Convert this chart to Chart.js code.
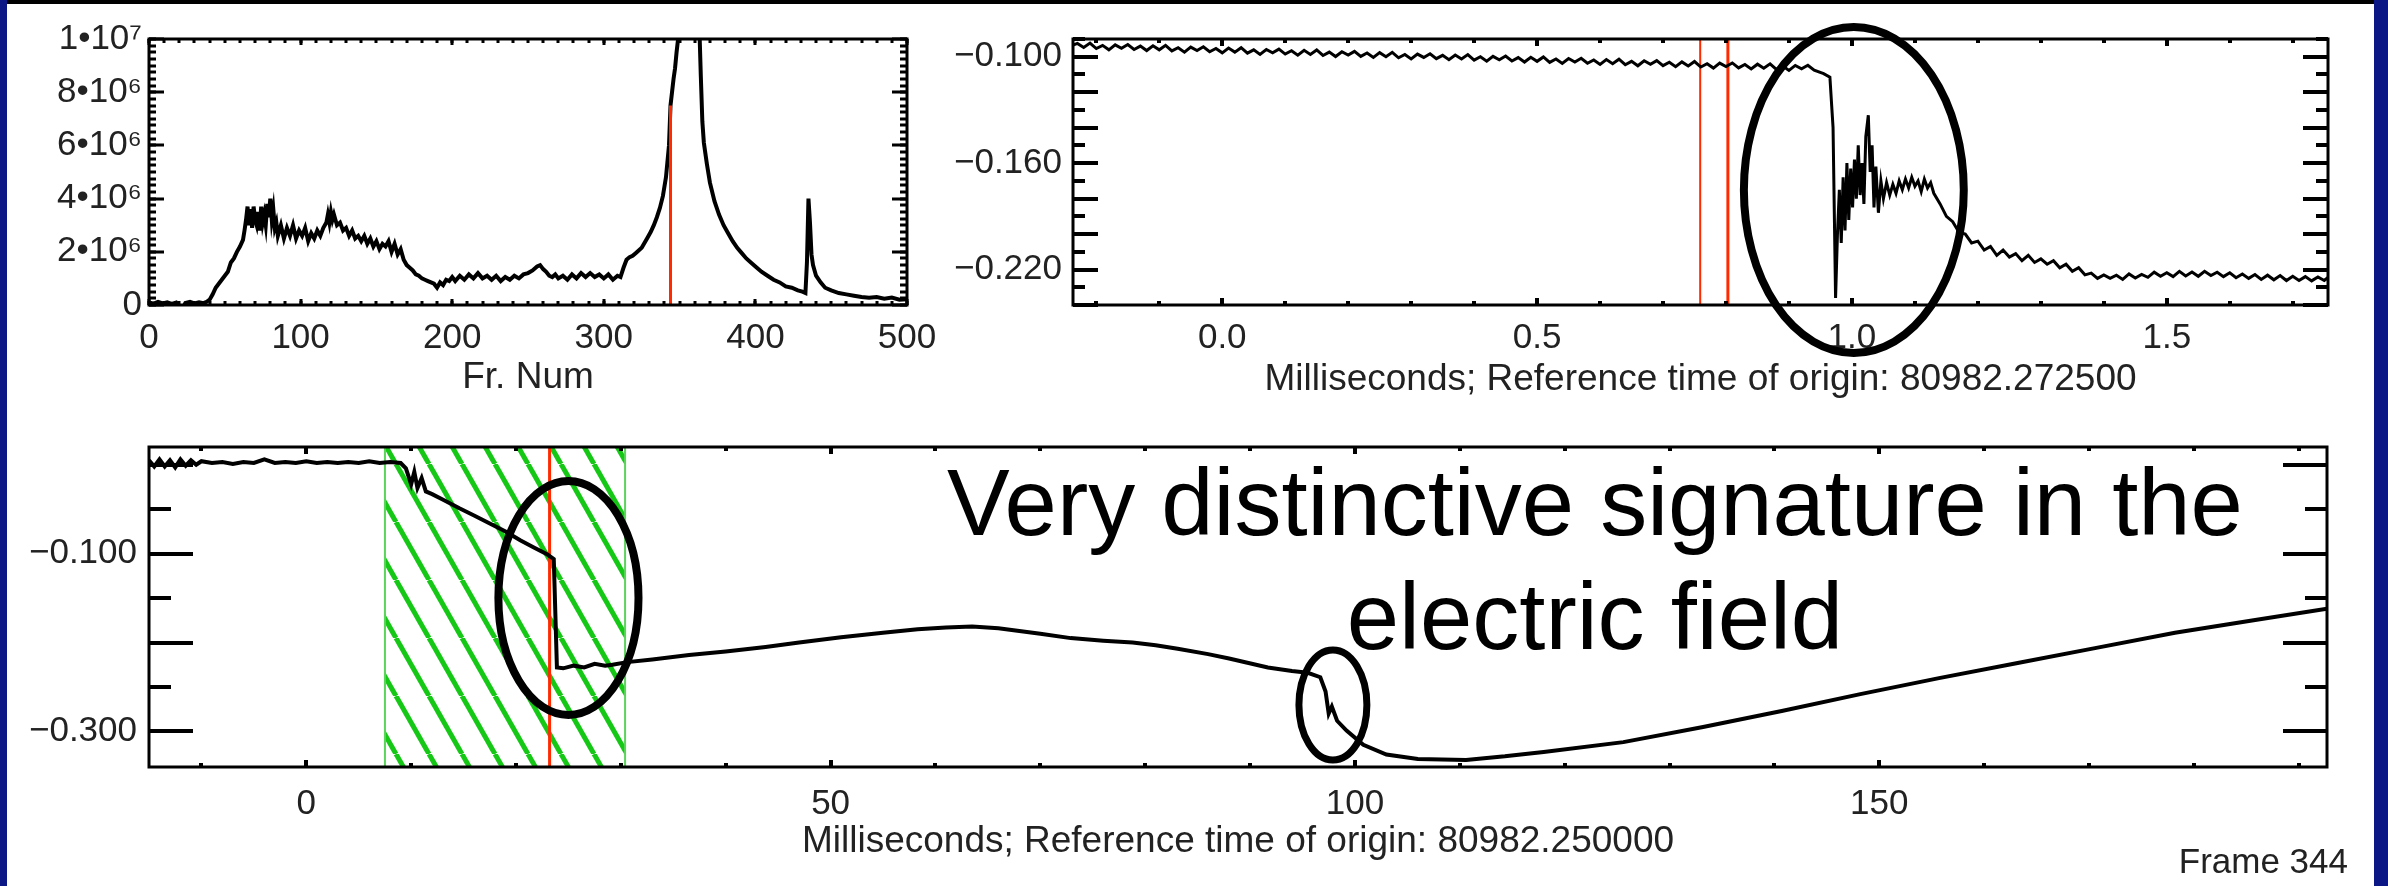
<!DOCTYPE html>
<html>
<head>
<meta charset="utf-8">
<script src="https://cdn.jsdelivr.net/npm/chart.js@4.4.1/dist/chart.umd.min.js"></script>
<style>
  html, body { margin:0; padding:0; }
  body { width:2388px; height:886px; background:#fff; position:relative; overflow:hidden; font-family:'Liberation Sans', Arial, Helvetica, sans-serif; }
  canvas { position:absolute; left:0; top:0; }
  .edge { position:absolute; background:#0b1784; }
  .note { position:absolute; color:#000; white-space:nowrap; }
</style>
</head>
<body>
<div class="edge" style="left:0;top:0;width:7px;height:886px"></div>
<div class="edge" style="left:2374px;top:0;width:14px;height:886px"></div>
<div style="position:absolute;left:7px;top:0;width:2367px;height:4px;background:#000"></div>
<canvas id="c1" width="2388" height="886"></canvas>
<canvas id="c2" width="2388" height="886"></canvas>
<canvas id="c3" width="2388" height="886"></canvas>
<div class="note" style="left:845px;top:446px;width:1500px;text-align:center;font-size:94px;line-height:114px;">Very distinctive signature in the<br>electric field</div>
<div class="note" style="right:40px;top:841px;font-size:35px;line-height:40px;color:#222;">Frame 344</div>
<script>
// ---------------- DATA ----------------
// Panel 1: counts (in units of 10^6) versus frame number
const p1Frame = [
  0,3,6,9,12,15,18,22,24,27,
  30,33,36,38,40,42,44,46,48,50,
  52,54,56,58,60,62,63,64,65,66,
  67,68,69,70,71,72,73,74,75,76,
  77,78,79,80,81,82,83,84,85,87,
  89,91,93,95,97,99,101,103,105,107,
  109,111,113,115,117,118,119,120,121,122,
  124,126,128,130,132,134,136,138,140,142,
  144,146,148,150,152,154,156,158,160,162,
  164,166,168,170,172,174,176,178,180,182,
  184,186,188,190,192,194,196,198,200,202,
  205,208,211,214,217,220,223,226,229,232,
  235,238,241,244,247,250,253,256,258,260,
  262,264,266,268,270,273,276,279,282,285,
  288,291,294,297,300,303,306,309,311,313,
  315,317,319,321,323,325,327,329,331,333,
  335,337,339,341,343,344,345,346,347,348,
  349,350,352,355,358,361,363,364,365,366,
  368,370,373,376,379,382,385,388,391,394,
  397,400,404,408,412,416,420,424,428,431,
  433,434,435,436,437,438,440,443,446,450,
  455,460,465,470,475,480,485,490,495,500
];
const p1CountsMillions = [
  0.10,0.05,0.12,0.06,0.10,0.04,0.09,-0.15,0.08,0.12,
  0.06,0.10,0.07,0.12,0.2,0.4,0.65,0.8,0.95,1.1,
  1.25,1.6,1.75,2.0,2.2,2.45,2.8,3.2,3.7,3.0,
  3.6,2.9,3.7,3.2,3.0,3.5,2.8,3.7,3.1,3.4,
  3.0,3.8,3.3,4.0,3.2,3.6,2.9,3.1,2.6,3.0,
  2.5,2.9,2.6,3.0,2.5,2.8,2.6,2.9,2.4,2.7,
  2.5,2.8,2.6,2.9,3.1,3.4,3.1,3.5,3.2,3.4,
  3.0,3.1,2.8,2.9,2.6,2.8,2.5,2.6,2.4,2.6,
  2.3,2.5,2.2,2.4,2.1,2.3,2.2,2.4,2.0,2.3,
  1.9,2.1,1.7,1.5,1.4,1.3,1.15,1.1,1.0,0.95,
  0.9,0.85,0.8,0.65,0.85,0.75,0.95,0.9,1.05,0.9,
  1.1,0.95,1.15,1.0,1.2,1.0,1.1,0.95,1.1,0.9,
  1.05,0.95,1.1,1.0,1.15,1.2,1.3,1.45,1.5,1.35,
  1.25,1.1,1.05,1.15,1.0,1.1,0.95,1.15,1.0,1.2,
  1.05,1.2,1.05,1.15,1.0,1.15,0.95,1.1,1.05,1.4,
  1.7,1.8,1.85,1.95,2.05,2.15,2.35,2.55,2.75,3.0,
  3.3,3.65,4.1,4.8,6.0,7.5,8.0,8.5,8.9,9.5,
  10.0,10.5,12,14,14,12,10.5,8.6,6.9,6.1,
  5.3,4.6,3.9,3.4,3.0,2.7,2.4,2.15,1.95,1.75,
  1.6,1.45,1.25,1.1,0.95,0.85,0.7,0.65,0.55,0.5,
  0.45,1.6,4.0,3.1,1.9,1.5,1.1,0.85,0.65,0.55,
  0.45,0.4,0.35,0.3,0.27,0.3,0.24,0.28,0.2,0.22
];
const p1MarkFrame = [344, 344];
const p1MarkCounts = [0, 7.5];
const p1XTicks = [0, 100, 200, 300, 400, 500];
const p1XLabels = ['0', '100', '200', '300', '400', '500'];
const p1YTicks = [0, 2, 4, 6, 8, 10];
const p1YLabels = ['0', '2\u202210\u2076', '4\u202210\u2076', '6\u202210\u2076', '8\u202210\u2076', '1\u202210\u2077'];

// Panel 2: field versus milliseconds (origin 80982.272500)
const p2Ms = [
  -0.237,
  -0.23,-0.22,-0.21,-0.2,-0.19,-0.18,-0.17,-0.16,-0.15,-0.14,
  -0.13,-0.12,-0.11,-0.1,-0.09,-0.08,-0.07,-0.06,-0.05,-0.04,
  -0.03,-0.02,-0.01,0,0.01,0.02,0.03,0.04,0.05,0.06,
  0.07,0.08,0.09,0.1,0.11,0.12,0.13,0.14,0.15,0.16,
  0.17,0.18,0.19,0.2,0.21,0.22,0.23,0.24,0.25,0.26,
  0.27,0.28,0.29,0.3,0.31,0.32,0.33,0.34,0.35,0.36,
  0.37,0.38,0.39,0.4,0.41,0.42,0.43,0.44,0.45,0.46,
  0.47,0.48,0.49,0.5,0.51,0.52,0.53,0.54,0.55,0.56,
  0.57,0.58,0.59,0.6,0.61,0.62,0.63,0.64,0.65,0.66,
  0.67,0.68,0.69,0.7,0.71,0.72,0.73,0.74,0.75,0.76,
  0.77,0.78,0.79,0.8,0.81,0.82,0.83,0.84,0.85,0.86,
  0.87,0.88,0.89,0.9,0.91,0.92,0.93,0.94,
  0.955,0.965,0.970,0.974,0.977,0.980,0.983,0.986,0.989,0.992,
  0.995,0.998,1.001,1.004,1.007,1.010,1.013,1.016,1.019,1.022,
  1.026,1.029,1.032,1.035,1.038,1.042,1.046,1.050,1.055,1.060,
  1.065,1.070,1.075,1.080,1.085,1.090,1.095,1.100,1.105,1.110,
  1.115,1.12,1.125,1.13,1.14,1.15,1.16,1.17,1.18,1.19,
  1.20,1.21,1.22,1.23,1.24,1.25,1.26,1.27,1.28,1.29,
  1.30,1.31,1.32,1.33,1.34,1.35,1.36,1.37,1.38,1.39,
  1.40,1.41,1.42,1.43,1.44,1.45,1.46,1.47,1.48,1.49,
  1.50,1.51,1.52,1.53,1.54,1.55,1.56,1.57,1.58,1.59,
  1.60,1.61,1.62,1.63,1.64,1.65,1.66,1.67,1.68,1.69,
  1.70,1.71,1.72,1.73,1.74,1.75,1.756
];
const p2Field = [
  -0.0935,
  -0.0925,-0.0948,-0.0923,-0.0954,-0.0936,-0.0961,-0.0933,-0.0952,-0.0931,-0.0959,
  -0.0940,-0.0965,-0.0938,-0.0961,-0.0936,-0.0967,-0.0949,-0.0974,-0.0946,-0.0965,
  -0.0944,-0.0972,-0.0953,-0.0978,-0.0951,-0.0974,-0.0949,-0.0980,-0.0961,-0.0987,
  -0.0959,-0.0978,-0.0957,-0.0985,-0.0966,-0.0991,-0.0964,-0.0987,-0.0962,-0.0993,
  -0.0974,-0.0999,-0.0972,-0.0991,-0.0970,-0.0998,-0.0979,-0.1004,-0.0977,-0.1000,
  -0.0975,-0.1006,-0.0987,-0.1012,-0.0985,-0.1004,-0.0983,-0.1011,-0.0992,-0.1017,
  -0.0990,-0.1013,-0.0988,-0.1019,-0.1000,-0.1025,-0.0998,-0.1017,-0.0996,-0.1024,
  -0.1005,-0.1030,-0.1003,-0.1026,-0.1001,-0.1032,-0.1013,-0.1038,-0.1010,-0.1030,
  -0.1009,-0.1037,-0.1018,-0.1043,-0.1016,-0.1039,-0.1014,-0.1045,-0.1026,-0.1051,
  -0.1023,-0.1043,-0.1022,-0.1050,-0.1031,-0.1056,-0.1029,-0.1052,-0.1027,-0.1058,
  -0.1039,-0.1064,-0.1036,-0.1055,-0.1035,-0.1063,-0.1044,-0.1069,-0.1042,-0.1065,
  -0.1040,-0.1071,-0.1052,-0.1077,-0.1049,-0.1068,-0.1048,-0.1076,
  -0.1095,-0.1115,-0.140,-0.236,-0.200,-0.175,-0.205,-0.168,-0.198,-0.160,
  -0.192,-0.163,-0.185,-0.158,-0.180,-0.150,-0.178,-0.160,-0.183,-0.145,
  -0.133,-0.165,-0.150,-0.185,-0.162,-0.188,-0.170,-0.180,-0.171,-0.178,
  -0.172,-0.177,-0.170,-0.175,-0.169,-0.174,-0.168,-0.173,-0.170,-0.176,
  -0.169,-0.174,-0.171,-0.177,-0.183,-0.190,-0.193,-0.199,-0.200,-0.205,
  -0.204,-0.209,-0.207,-0.212,-0.209,-0.213,-0.211,-0.215,-0.212,-0.216,
  -0.214,-0.217,-0.215,-0.219,-0.217,-0.221,-0.219,-0.223,-0.222,-0.225,
  -0.2230,-0.2250,-0.2232,-0.2256,-0.2225,-0.2248,-0.2228,-0.2244,-0.2215,-0.2238,
  -0.2218,-0.2240,-0.2210,-0.2236,-0.2214,-0.2238,-0.2210,-0.2234,-0.2215,-0.2240,
  -0.2218,-0.2246,-0.2225,-0.2250,-0.2228,-0.2256,-0.2232,-0.2258,-0.2234,-0.2262,
  -0.2238,-0.2262,-0.2240,-0.2264,-0.2242,-0.2262,-0.2245
];
const p2MarkA = [0.759, 0.759];
const p2MarkB = [0.803, 0.803];
const p2MarkSpan = [-0.24, -0.09];
const p2XTicks = [0, 0.5, 1.0, 1.5];
const p2XLabels = ['0.0', '0.5', '1.0', '1.5'];
const p2YTicks = [-0.10, -0.16, -0.22];
const p2YLabels = ['\u22120.100', '\u22120.160', '\u22120.220'];

// Panel 3: field versus milliseconds (origin 80982.250000)
const p3Ms = [
  -15,-14.5,-14,-13.5,-13,-12.5,-12,-11.5,-11,-10.5,
  -10,-9,-8,-7,-6,-5,-4,-3,-2,-1,
  0,1,2,3,4,5,6,7,8,9,
  9.5,10,10.3,10.6,11,11.4,12,13,14.6,16,
  17.5,19,20.4,21.7,23.0,23.6,23.9,24.5,25.5,26.5,
  27.5,28.5,29.2,30.6,33,36.5,40,43.8,47,51,
  55,58.3,61,63.5,66,68,70,72.9,76,78.8,
  81,83.1,86,88,91.7,94,95.5,96.7,97.2,97.5,
  97.8,98.3,99.2,100.8,103,106,110.6,114.3,118,125.6,
  133.2,140.7,148.2,155.7,163.2,170.7,178.2,185.7,192.7
];
const p3Field = [
  0.005,-0.002,0.006,-0.002,0.005,-0.003,0.006,-0.001,0.005,0.0,
  0.004,0.002,0.003,0.001,0.003,0.002,0.006,0.002,0.003,0.002,
  0.004,0.002,0.003,0.002,0.003,0.002,0.004,0.002,0.003,0.002,
  -0.004,-0.022,-0.008,-0.026,-0.015,-0.030,-0.033,-0.039,-0.049,-0.057,
  -0.066,-0.075,-0.085,-0.093,-0.101,-0.106,-0.228,-0.229,-0.226,-0.228,
  -0.224,-0.226,-0.225,-0.222,-0.219,-0.214,-0.210,-0.205,-0.200,-0.194,
  -0.189,-0.185,-0.183,-0.182,-0.184,-0.187,-0.190,-0.195,-0.198,-0.200,
  -0.203,-0.207,-0.213,-0.218,-0.228,-0.232,-0.234,-0.239,-0.255,-0.280,
  -0.272,-0.288,-0.299,-0.315,-0.326,-0.331,-0.332,-0.328,-0.323,-0.312,
  -0.295,-0.277,-0.258,-0.240,-0.223,-0.206,-0.189,-0.175,-0.162
];
const p3MarkMs = [23.2, 23.2];
const p3BandMs = [7.5, 30.4];
const p3Span = [-0.34, 0.02];
const p3XTicks = [0, 50, 100, 150];
const p3XLabels = ['0', '50', '100', '150'];
const p3YTicks = [-0.1, -0.3];
const p3YLabels = ['\u22120.100', '\u22120.300'];

// annotation ovals, in data units
const p2Ovals = [{cx: 1.003, cy: -0.1752, rx: 0.1746, ry: 0.0919, w: 8}];
const p3Ovals = [{cx: 25.0, cy: -0.1499, rx: 6.68, ry: 0.1316, w: 8},
                 {cx: 97.9, cy: -0.2702, rx: 3.24, ry: 0.0619, w: 7}];

// ---------------- LAYOUT / STYLE ----------------
const W = 2388, H = 886;
const FONT = "'Liberation Sans', Arial, Helvetica, sans-serif";
const RED = '#ff2a00';
const TICK_SIZE = 35, TITLE_SIZE = 37;

const pts = (xs, ys) => xs.map((v, i) => ({x: v, y: ys[i]}));

const frameTicks = {
  id: 'frameTicks',
  afterDatasetsDraw(chart, args, o) {
    const {ctx, chartArea: a, scales: {x, y}} = chart;
    ctx.save();
    ctx.strokeStyle = '#000';
    ctx.lineCap = 'butt';
    const marks = (scale, step, len, horiz) => {
      const k0 = Math.ceil(scale.min / step - 1e-6), k1 = Math.floor(scale.max / step + 1e-6);
      ctx.lineWidth = o.tw;
      ctx.beginPath();
      for (let k = k0; k <= k1; k++) {
        const p = Math.round(scale.getPixelForValue(k * step));
        if (horiz) {
          ctx.moveTo(p, a.bottom); ctx.lineTo(p, a.bottom - len);
          ctx.moveTo(p, a.top); ctx.lineTo(p, a.top + len);
        } else {
          ctx.moveTo(a.left, p); ctx.lineTo(a.left + len, p);
          ctx.moveTo(a.right, p); ctx.lineTo(a.right - len, p);
        }
      }
      ctx.stroke();
    };
    marks(x, o.xMin, o.xMinLen, true);
    marks(x, o.xMaj, o.xMajLen, true);
    marks(y, o.yMin, o.yMinLen, false);
    marks(y, o.yMaj, o.yMajLen, false);
    ctx.lineWidth = o.fw;
    ctx.strokeRect(a.left, a.top, a.right - a.left, a.bottom - a.top);
    ctx.restore();
  }
};

const ovals = {
  id: 'ovals',
  afterDraw(chart, args, o) {
    const {ctx, scales: {x, y}} = chart;
    (o.list || []).forEach(e => {
      const cx = x.getPixelForValue(e.cx), cy = y.getPixelForValue(e.cy);
      const rx = Math.abs(x.getPixelForValue(e.cx + e.rx) - cx);
      const ry = Math.abs(y.getPixelForValue(e.cy + e.ry) - cy);
      ctx.save();
      ctx.strokeStyle = '#000';
      ctx.lineWidth = e.w;
      ctx.beginPath();
      ctx.ellipse(cx, cy, rx, ry, 0, 0, Math.PI * 2);
      ctx.stroke();
      ctx.restore();
    });
  }
};

function hatchPattern() {
  const c = document.createElement('canvas');
  c.width = 33; c.height = 58;
  const g = c.getContext('2d');
  g.strokeStyle = '#16c816';
  g.lineWidth = 5;
  [-33, 0, 33].forEach(o => { g.beginPath(); g.moveTo(o, 0); g.lineTo(o + 33, 58); g.stroke(); });
  return g.createPattern(c, 'repeat');
}

function line(data, color, width, extra) {
  return Object.assign({data, borderColor: color, borderWidth: width, pointRadius: 0,
    tension: 0, fill: false, backgroundColor: 'rgba(0,0,0,0)'}, extra || {});
}

function makeChart(id, box, datasets, ax, tickOpts, ovalList) {
  return new Chart(document.getElementById(id), {
    type: 'line',
    data: {datasets},
    plugins: [frameTicks, ovals],
    options: {
      responsive: false,
      animation: false,
      devicePixelRatio: 1,
      events: [],
      layout: {padding: {left: 0, top: box.T, right: W - box.R, bottom: 0}},
      plugins: {
        legend: {display: false},
        tooltip: {enabled: false},
        frameTicks: tickOpts,
        ovals: {list: ovalList}
      },
      scales: {
        x: {
          type: 'linear', min: ax.xMin, max: ax.xMax,
          grid: {display: false, drawTicks: false},
          border: {display: false},
          afterBuildTicks: s => { s.ticks = ax.xTicks.map(v => ({value: v})); },
          ticks: {font: {family: FONT, size: TICK_SIZE}, color: '#222', padding: ax.xPad,
                  maxRotation: 0, autoSkip: false,
                  callback: (v, i) => ax.xLabels[i]},
          title: {display: true, text: ax.xTitle, color: '#222',
                  font: {family: FONT, size: TITLE_SIZE},
                  padding: {top: 0, bottom: H - box.title - TITLE_SIZE * 0.6}},
          afterFit: s => { s.height = H - box.B; }
        },
        y: {
          type: 'linear', min: ax.yMin, max: ax.yMax,
          grid: {display: false, drawTicks: false},
          border: {display: false},
          afterBuildTicks: s => { s.ticks = ax.yTicks.map(v => ({value: v})); },
          ticks: {font: {family: FONT, size: TICK_SIZE}, color: '#222', padding: ax.yPad,
                  autoSkip: false, callback: (v, i) => ax.yLabels[i]},
          afterFit: s => { s.width = box.L; }
        }
      }
    }
  });
}

// Panel 1
makeChart('c1', {L: 149, T: 39, R: 907, B: 305, title: 378}, [
  line(pts(p1MarkFrame, p1MarkCounts), RED, 3),
  line(pts(p1Frame, p1CountsMillions), '#000', 4)
], {xMin: 0, xMax: 500, yMin: 0, yMax: 10, xTicks: p1XTicks, xLabels: p1XLabels,
    yTicks: p1YTicks, yLabels: p1YLabels, yPad: 7, xPad: 12, xTitle: 'Fr. Num'},
   {xMaj: 100, xMajLen: 6, xMin: 10, xMinLen: 4, yMaj: 2, yMajLen: 15, yMin: 0.25, yMinLen: 7, tw: 3, fw: 3},
   []);

// Panel 2
makeChart('c2', {L: 1073, T: 39, R: 2328, B: 305, title: 380}, [
  line(pts(p2Ms, p2Field), '#000', 3),
  line(pts(p2MarkA, p2MarkSpan), RED, 2),
  line(pts(p2MarkB, p2MarkSpan), RED, 3)
], {xMin: -0.237, xMax: 1.756, yMin: -0.24, yMax: -0.09, xTicks: p2XTicks, xLabels: p2XLabels,
    yTicks: p2YTicks, yLabels: p2YLabels, yPad: 11, xPad: 12,
    xTitle: 'Milliseconds; Reference time of origin: 80982.272500'},
   {xMaj: 0.5, xMajLen: 7, xMin: 0.1, xMinLen: 4, yMaj: 0.02, yMajLen: 25, yMin: 0.01, yMinLen: 12, tw: 4, fw: 3},
   p2Ovals);

// Panel 3
makeChart('c3', {L: 149, T: 447, R: 2327, B: 767, title: 842}, [
  line(pts(p3Ms, p3Field), '#000', 4),
  line(pts(p3MarkMs, p3Span), RED, 3),
  line(pts([p3BandMs[0], p3BandMs[0]], p3Span), '#5ad45a', 2),
  line(pts([p3BandMs[1], p3BandMs[1]], p3Span), '#5ad45a', 2),
  line(pts(p3BandMs, [p3Span[1], p3Span[1]]), 'rgba(0,0,0,0)', 0,
       {fill: 'start', backgroundColor: hatchPattern()})
], {xMin: -15, xMax: 192.7, yMin: -0.34, yMax: 0.02, xTicks: p3XTicks, xLabels: p3XLabels,
    yTicks: p3YTicks, yLabels: p3YLabels, yPad: 12, xPad: 16,
    xTitle: 'Milliseconds; Reference time of origin: 80982.250000'},
   {xMaj: 50, xMajLen: 7, xMin: 10, xMinLen: 4, yMaj: 0.1, yMajLen: 44, yMin: 0.05, yMinLen: 22, tw: 4, fw: 3},
   p3Ovals);
</script>
</body>
</html>
